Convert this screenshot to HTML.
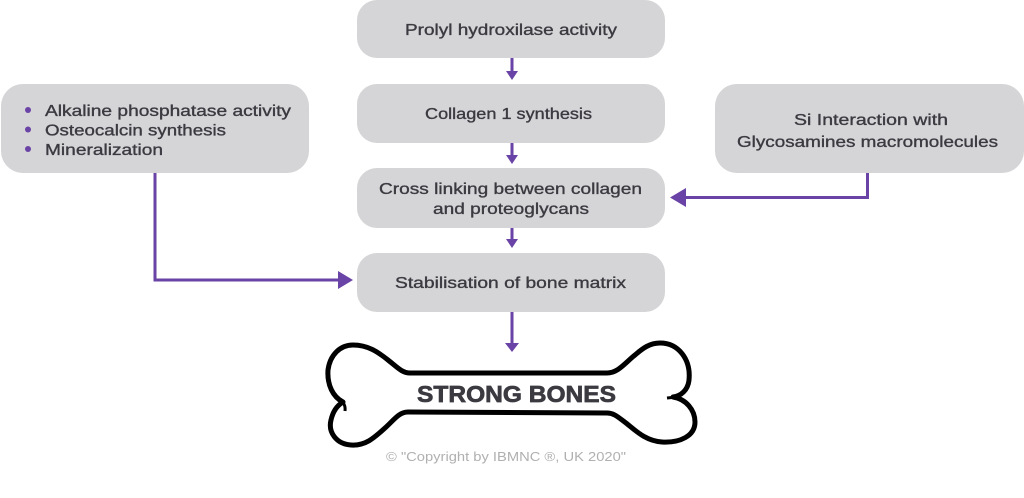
<!DOCTYPE html>
<html>
<head>
<meta charset="utf-8">
<style>
html,body{margin:0;padding:0;background:#fff;}
body{width:1024px;height:498px;overflow:hidden;}
svg{display:block;}
text{font-family:"Liberation Sans","DejaVu Sans",sans-serif;}
.t{font-size:16px;fill:#3a3a40;stroke:#3a3a40;stroke-width:0.35;}
</style>
</head>
<body>
<svg width="1024" height="498" viewBox="0 0 1024 498" xmlns="http://www.w3.org/2000/svg">
  <!-- boxes -->
  <g fill="#d5d5d7">
    <rect x="357" y="0" width="308" height="58" rx="20" ry="20"/>
    <rect x="357" y="84" width="308" height="59" rx="20" ry="20"/>
    <rect x="357" y="168" width="308" height="60" rx="20" ry="20"/>
    <rect x="357" y="253" width="308" height="59" rx="20" ry="20"/>
    <rect x="1" y="84" width="308" height="89" rx="22" ry="22"/>
    <rect x="715" y="84" width="309" height="89" rx="22" ry="22"/>
  </g>

  <!-- box texts -->
  <text class="t" x="405" y="35" textLength="212" lengthAdjust="spacingAndGlyphs">Prolyl hydroxilase activity</text>
  <text class="t" x="425" y="119" textLength="167" lengthAdjust="spacingAndGlyphs">Collagen 1 synthesis</text>
  <text class="t" x="379" y="194" textLength="263" lengthAdjust="spacingAndGlyphs">Cross linking between collagen</text>
  <text class="t" x="433" y="214" textLength="156" lengthAdjust="spacingAndGlyphs">and proteoglycans</text>
  <text class="t" x="395" y="288" textLength="231" lengthAdjust="spacingAndGlyphs">Stabilisation of bone matrix</text>

  <text class="t" x="45" y="116" textLength="246" lengthAdjust="spacingAndGlyphs">Alkaline phosphatase activity</text>
  <text class="t" x="45" y="135.5" textLength="181" lengthAdjust="spacingAndGlyphs">Osteocalcin synthesis</text>
  <text class="t" x="45" y="155" textLength="118" lengthAdjust="spacingAndGlyphs">Mineralization</text>
  <g fill="#6a43a6">
    <circle cx="28" cy="110" r="3"/>
    <circle cx="28" cy="129.5" r="3"/>
    <circle cx="28" cy="149" r="3"/>
  </g>

  <text class="t" x="794" y="125" textLength="154" lengthAdjust="spacingAndGlyphs">Si Interaction with</text>
  <text class="t" x="737" y="147" textLength="261" lengthAdjust="spacingAndGlyphs">Glycosamines macromolecules</text>

  <!-- connectors -->
  <g stroke="#6a43a6" stroke-width="3" fill="none">
    <line x1="512" y1="58" x2="512" y2="73"/>
    <line x1="512" y1="143" x2="512" y2="156"/>
    <line x1="512" y1="228" x2="512" y2="240"/>
    <line x1="512" y1="312" x2="512" y2="344"/>
    <polyline points="155,173 155,280 340,280"/>
    <polyline points="867.5,173 867.5,197.5 684,197.5"/>
  </g>
  <g fill="#6a43a6">
    <polygon points="506,71 518,71 512,80"/>
    <polygon points="506,155 518,155 512,164"/>
    <polygon points="506,239 518,239 512,248"/>
    <polygon points="505,343 519,343 512,352"/>
    <polygon points="338,271 353,280 338,289"/>
    <polygon points="686,188 670,197.5 686,207"/>
  </g>

  <!-- bone -->
  <path d="M 410 373 L 607 373
           C 618 373, 625 363, 635 355
           C 643 348, 650 343, 660 343
           C 679 343, 691 360, 689 380
           C 688 390, 681 396, 673 397
           C 686 399, 695 410, 695 422
           C 695 436, 680 443, 662 442
           C 646 441, 636 431, 626 423
           C 618 417, 614 413, 607 413
           L 408 412
           C 399 412, 394 420, 385 428
           C 375 437, 366 446, 351 445
           C 336 444, 328 432, 331 420
           C 333 411, 338 405, 343 402
           C 333 397, 327 385, 328 370
           C 330 355, 340 345, 353 345
           C 368 345, 378 352, 388 360
           C 397 367, 402 373, 410 373 Z"
        fill="#fff" stroke="#000" stroke-width="5" stroke-linejoin="round"/>
  <path d="M 339 400 Q 346 403 345 411" fill="none" stroke="#000" stroke-width="3"/>
  <path d="M 677 397 L 667 398" fill="none" stroke="#000" stroke-width="3"/>

  <text x="417" y="402" font-size="23" font-weight="bold" fill="#3a3a40" stroke="#3a3a40" stroke-width="0.7" textLength="199" lengthAdjust="spacingAndGlyphs">STRONG BONES</text>
  <text x="386" y="461" font-size="12.5" fill="#b0b0b0" textLength="240" lengthAdjust="spacingAndGlyphs">© "Copyright by IBMNC ®, UK 2020"</text>
</svg>
</body>
</html>
